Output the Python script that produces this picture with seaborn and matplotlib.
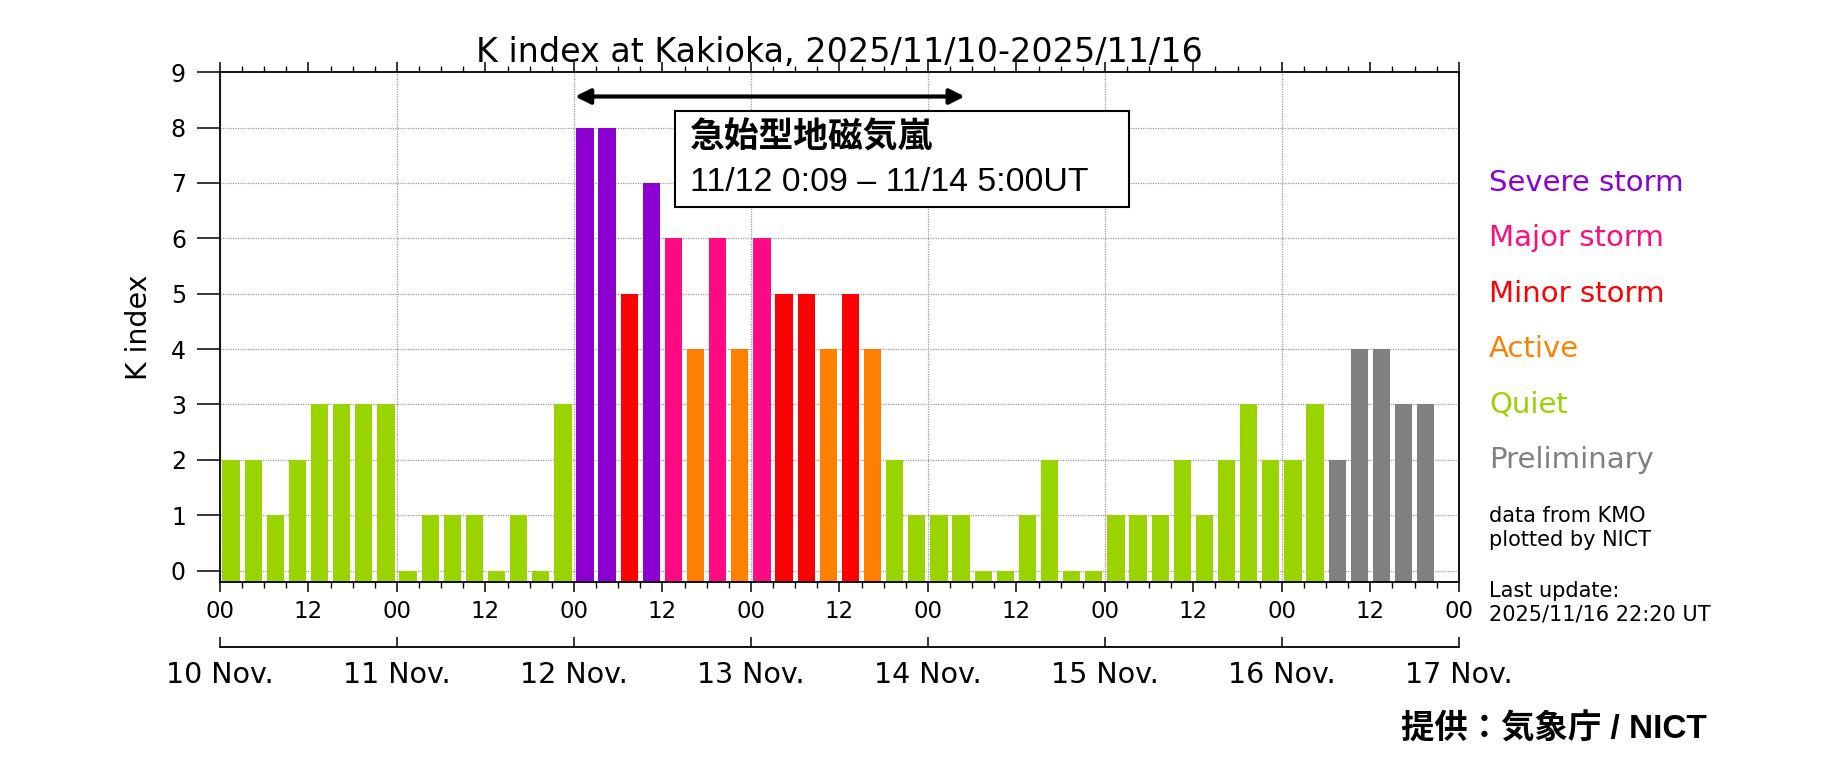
import numpy as np
import pandas as pd
import matplotlib
matplotlib.use("Agg")
import matplotlib.pyplot as plt
import matplotlib.transforms as mtransforms
from matplotlib.patches import Rectangle
import seaborn as sns

# ---------------- data ----------------
title = "K index at Kakioka, 2025/11/10-2025/11/16"
day_labels = ["10 Nov.", "11 Nov.", "12 Nov.", "13 Nov.", "14 Nov.", "15 Nov.", "16 Nov.", "17 Nov."]
hour_labels = ["00", "12"]
bins_per_day = 8  # 3-hour K index
k_values = [2, 2, 1, 2, 3, 3, 3, 3,
            0, 1, 1, 1, 0, 1, 0, 3,
            8, 8, 5, 7, 6, 4, 6, 4,
            6, 5, 5, 4, 5, 4, 2, 1,
            1, 1, 0, 0, 1, 2, 0, 0,
            1, 1, 1, 2, 1, 2, 3, 2,
            2, 3, 2, 4, 4, 3, 3]
n_preliminary = 5  # last values are preliminary

level_names = ["Severe storm", "Major storm", "Minor storm", "Active", "Quiet", "Preliminary"]
level_colors = ["#8C00D2", "#FF0A82", "#FF0000", "#FF8000", "#99D400", "#808080"]
level_label_k = [7, 6, 5, 4, 3, 2]

storm_title = "急始型地磁気嵐"
storm_period = "11/12 0:09 – 11/14 5:00UT"
storm_start_h = 48 + 9 / 60   # hours since 11/10 00:00 UT
storm_end_h = 96 + 5

note_source = "data from KMO\nplotted by NICT"
note_update = "Last update:\n2025/11/16 22:20 UT"
credit = "提供：気象庁 / NICT"


def level_of(k):
    if k >= 7:
        return "Severe storm"
    if k == 6:
        return "Major storm"
    if k == 5:
        return "Minor storm"
    if k == 4:
        return "Active"
    return "Quiet"


n_days = len(day_labels) - 1
n_bins = n_days * bins_per_day
levels = [level_of(k) for k in k_values]
for i in range(len(k_values) - n_preliminary, len(k_values)):
    levels[i] = "Preliminary"
df = pd.DataFrame({"bin": np.arange(len(k_values)), "k": k_values, "level": levels})
palette = dict(zip(level_names, level_colors))

# ---------------- figure ----------------
sns.set_style("ticks")
plt.rcParams["font.family"] = ["DejaVu Sans"]
for key in ["text.color", "axes.labelcolor", "xtick.color", "ytick.color", "axes.edgecolor"]:
    plt.rcParams[key] = "black"

fig = plt.figure(figsize=(18.24, 7.69), dpi=100)
ax_l, ax_b, ax_r, ax_t = 0.1206, 0.2436, 0.7998, 0.9062
ax = fig.add_axes([ax_l, ax_b, ax_r - ax_l, ax_t - ax_b])

sns.barplot(data=df, x="bin", y="k", hue="level", palette=palette,
            order=list(range(n_bins)), dodge=False, width=0.78, saturation=1,
            legend=False, linewidth=0, ax=ax)

ymin, ymax = -0.2, 9
# bars start at the bottom of the frame (so K=0 shows as a stub)
for p in ax.patches:
    h = p.get_height()
    p.set_y(ymin)
    p.set_height(h - ymin)

ax.set_xlim(-0.5, n_bins - 0.5)
ax.set_ylim(ymin, ymax)

# ticks
edges = np.arange(n_bins + 1) - 0.5
major = edges[::4]
ax.set_xticks(major)
ax.set_xticklabels([hour_labels[i % 2] for i in range(len(major))], fontsize=16.5)
ax.set_xticks(edges, minor=True)
ax.set_yticks(range(0, 10))
ax.set_yticklabels([str(v) for v in range(0, 10)], fontsize=17)
ax.tick_params(axis="x", which="major", direction="out", length=7.5, width=1.1,
               top=True, bottom=True, pad=6, color="black")
ax.tick_params(axis="x", which="minor", direction="out", length=4.3, width=1.0,
               top=True, bottom=True, color="black")
ax.tick_params(axis="y", which="major", direction="out", length=16.5, width=1.1,
               pad=8, right=False, color="black")
ax.set_xlabel("")
ax.set_ylabel("K index", fontsize=20.5)
ax.yaxis.set_label_coords(-0.054, 0.5)

# grid
ax.set_axisbelow(True)
for yv in range(0, 9):
    ax.axhline(yv, color="#9a9a9a", lw=0.9, ls=(0, (1, 1)), zorder=0)
for xv in edges[::bins_per_day]:
    ax.axvline(xv, color="#9a9a9a", lw=0.9, ls=(0, (1, 1)), zorder=0)

for s in ax.spines.values():
    s.set_visible(True)
    s.set_color("black")
    s.set_linewidth(1.3)

ax.set_title(title, fontsize=24, pad=7)

# day axis
ax2 = fig.add_axes([ax_l, 0.159, ax_r - ax_l, 0.0005])
ax2.set_xlim(-0.5, n_bins - 0.5)
ax2.set_ylim(0, 1)
ax2.set_yticks([])
for side in ["top", "left", "right"]:
    ax2.spines[side].set_visible(False)
ax2.spines["bottom"].set_linewidth(1.3)
ax2.set_xticks(edges[::bins_per_day])
ax2.set_xticklabels(day_labels, fontsize=20.5)
ax2.tick_params(axis="x", direction="in", length=7, width=1.1, pad=10)
ax2.patch.set_visible(False)

# storm annotation
def hours_to_x(h):
    return h / 3 - 0.5

ax.annotate("", xy=(hours_to_x(storm_end_h), 8.56), xytext=(hours_to_x(storm_start_h), 8.56),
            arrowprops=dict(arrowstyle="<|-|>,head_length=0.9,head_width=0.45",
                            color="black", lw=3, shrinkA=0, shrinkB=0),
            annotation_clip=False)
ax.add_patch(Rectangle((20.06, 6.565), 40.57 - 20.06, 8.307 - 6.565,
                       facecolor="white", edgecolor="black", lw=1.5, zorder=5))
ax.text(20.75, 7.83, storm_title, fontsize=25, fontweight="bold",
        family=["Noto Sans CJK JP"], va="center", ha="left", zorder=6)
ax.text(20.75, 7.005, storm_period, fontsize=24.4,
        family=["Liberation Sans", "DejaVu Sans"], va="center", ha="left", zorder=6)

# right-side legend
trans = mtransforms.blended_transform_factory(fig.transFigure, ax.transData)
for name, col, yk in zip(level_names, level_colors, level_label_k):
    ax.text(0.8163, yk, name, color=col, fontsize=21, va="center", ha="left",
            transform=trans, clip_on=False)

fig.text(0.8163, 0.3134, note_source, fontsize=15, va="center", ha="left", linespacing=1.2)
fig.text(0.8163, 0.2164, note_update, fontsize=15, va="center", ha="left", linespacing=1.2)

fig.text(0.9357, 0.052, credit, fontsize=24, fontweight="bold",
         family=["Liberation Sans", "Noto Sans CJK JP"], ha="right", va="center")

fig.savefig("out.png", dpi=100, facecolor="white")
